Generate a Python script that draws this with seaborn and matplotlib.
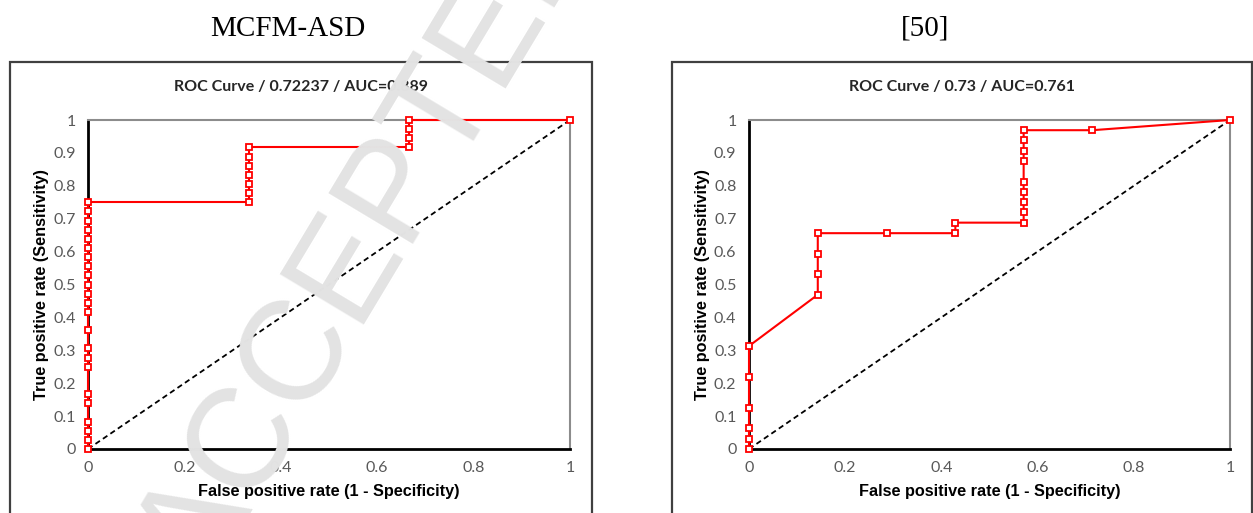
import matplotlib
matplotlib.use("Agg")
import matplotlib.pyplot as plt
import seaborn as sns
import pandas as pd
from matplotlib.patches import Rectangle
from matplotlib.ticker import FuncFormatter

# ROC points
fpr_mcfm = [0, 0, 0, 0, 0, 0, 0, 0, 0, 0, 0, 0, 0, 0, 0, 0, 0, 0, 0, 0, 0, 0, 0,
            0.333, 0.333, 0.333, 0.333, 0.333, 0.333, 0.333,
            0.667, 0.667, 0.667, 0.667, 1.0]
tpr_mcfm = [0, 0.028, 0.056, 0.083, 0.139, 0.167, 0.25, 0.278, 0.306, 0.361, 0.417,
            0.444, 0.472, 0.5, 0.528, 0.556, 0.583, 0.611, 0.639, 0.667, 0.694, 0.722, 0.75,
            0.75, 0.778, 0.806, 0.833, 0.861, 0.889, 0.917,
            0.917, 0.944, 0.972, 1.0, 1.0]

fpr_ref = [0, 0, 0, 0, 0, 0, 0.143, 0.143, 0.143, 0.143, 0.286, 0.429, 0.429,
           0.571, 0.571, 0.571, 0.571, 0.571, 0.571, 0.571, 0.571, 0.571, 0.714, 1.0]
tpr_ref = [0, 0.031, 0.063, 0.125, 0.219, 0.313, 0.469, 0.531, 0.594, 0.656, 0.656,
           0.656, 0.688, 0.688, 0.719, 0.75, 0.781, 0.813, 0.875, 0.906, 0.938, 0.969,
           0.969, 1.0]

panel_names = ["MCFM-ASD", "[50]"]
chart_titles = ["ROC Curve / 0.72237 / AUC=0.889", "ROC Curve / 0.73 / AUC=0.761"]
ticks = [0, 0.1, 0.2, 0.3, 0.4, 0.5, 0.6, 0.7, 0.8, 0.9, 1]
xticks = [0, 0.2, 0.4, 0.6, 0.8, 1]

sns.set_style("white")
plt.rcParams["font.family"] = ["Lato", "DejaVu Sans"]

W, H = 1253, 513
fig = plt.figure(figsize=(W / 100, H / 100), dpi=100)


def fx(px):
    return px / W


def fy(py):
    return 1 - py / H


def draw_panel(box_x0, box_x1, ax_x0, ax_x1, name_x, fpr, tpr, name, title):
    # outer chart-area frame, cut off at the bottom of the image
    fig.patches.append(Rectangle((fx(box_x0), -0.1), fx(box_x1 - box_x0), fy(62) + 0.1,
                                 transform=fig.transFigure, fill=False,
                                 edgecolor="#404040", linewidth=1.6, zorder=1))
    fig.text(fx(name_x), fy(29), name, ha="center", va="center",
             fontsize=21, family="Liberation Serif", color="black")
    fig.text(fx((box_x0 + box_x1) / 2), fy(87), title, ha="center", va="center",
             fontsize=11.5, fontweight="bold", color="#262626")

    ax = fig.add_axes([fx(ax_x0), fy(449), fx(ax_x1 - ax_x0), fy(120) - fy(449)])
    df = pd.DataFrame({"fpr": fpr, "tpr": tpr})
    sns.lineplot(x=[0, 1], y=[0, 1], ax=ax, color="black", linewidth=1.3,
                 linestyle=(0, (3, 2)), clip_on=False, zorder=2)
    sns.lineplot(data=df, x="fpr", y="tpr", ax=ax, sort=False, estimator=None,
                 color="#ff0000", linewidth=1.5, marker="s", markersize=5,
                 markerfacecolor="white", markeredgecolor="#ff0000",
                 markeredgewidth=1.3, clip_on=False, zorder=3)
    ax.set_xlim(0, 1)
    ax.set_ylim(0, 1)
    ax.set_xticks(xticks)
    ax.set_yticks(ticks)
    fmt = FuncFormatter(lambda v, p: f"{v:g}")
    ax.xaxis.set_major_formatter(fmt)
    ax.yaxis.set_major_formatter(fmt)
    ax.tick_params(direction="inout", length=8, width=1.4, color="black",
                   labelcolor="#595959", labelsize=11.5, pad=5)
    for side in ["top", "right"]:
        ax.spines[side].set_color("#8c8c8c")
        ax.spines[side].set_linewidth(1.5)
    for side in ["left", "bottom"]:
        ax.spines[side].set_color("black")
        ax.spines[side].set_linewidth(2)
    ax.set_xlabel("False positive rate (1 - Specificity)", family="Liberation Sans",
                  fontweight="bold", fontsize=11.7, color="black", labelpad=6)
    ax.set_ylabel("True positive rate (Sensitivity)", family="Liberation Sans",
                  fontweight="bold", fontsize=11.7, color="black", labelpad=3)
    ax.set_facecolor("none")
    return ax


draw_panel(10, 592, 88, 570, 288, fpr_mcfm, tpr_mcfm, panel_names[0], chart_titles[0])
draw_panel(672, 1252, 749, 1230, 925, fpr_ref, tpr_ref, panel_names[1], chart_titles[1])

# diagonal "ACCEPTED" watermark lying on top of the left panel
fig.text(fx(372), fy(240), "ACCEPTED", rotation=59, fontsize=102,
         family="Liberation Sans", color="#e3e3e3", ha="center", va="center",
         rotation_mode="anchor", zorder=20)

fig.savefig("out.png", dpi=100, facecolor="white")
